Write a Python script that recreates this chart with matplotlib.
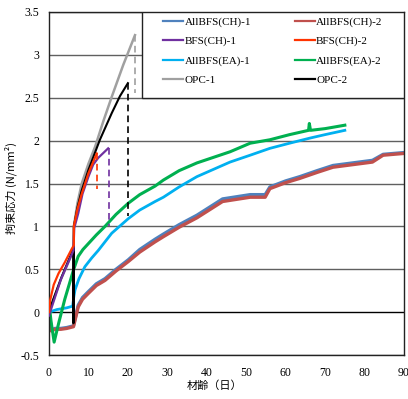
import matplotlib
matplotlib.use("Agg")
import matplotlib.pyplot as plt
from matplotlib.lines import Line2D
from matplotlib.patches import Rectangle

# --- data (age in days, restraint stress in N/mm2) ---
ch1_x = [0, 0.6, 1.5, 3, 4.5, 6.2, 7.4, 8.5, 10, 12, 14.2, 17, 20.1, 23, 26.9, 29, 33, 37.5, 44, 51, 54.8, 56, 60, 63.6, 68, 72, 77, 82, 84.7, 89.8]
ch1_y = [0, -0.21, -0.19, -0.19, -0.18, -0.16, 0.08, 0.17, 0.24, 0.33, 0.39, 0.50, 0.61, 0.73, 0.85, 0.91, 1.02, 1.13, 1.32, 1.37, 1.37, 1.46, 1.53, 1.58, 1.65, 1.71, 1.74, 1.77, 1.84, 1.86]

ch2_x = [0, 0.6, 1.5, 3, 4.5, 6.2, 7.4, 8.5, 10, 12, 14.2, 17, 20.1, 23, 26.9, 29, 33, 37.5, 44, 51, 54.8, 56, 60, 63.6, 68, 72, 77, 82, 84.7, 89.8]
ch2_y = [0, -0.22, -0.2, -0.2, -0.19, -0.17, 0.06, 0.15, 0.22, 0.31, 0.37, 0.48, 0.59, 0.70, 0.82, 0.88, 0.99, 1.10, 1.29, 1.34, 1.34, 1.44, 1.51, 1.56, 1.63, 1.69, 1.72, 1.75, 1.83, 1.85]

bfs1_x = [0, 1, 3, 6.2, 6.4, 7.4, 8.5, 10, 11.2, 12.5, 15]
bfs1_y = [-0.04, 0.1, 0.38, 0.72, 0.98, 1.15, 1.38, 1.58, 1.72, 1.8, 1.91]

bfs2_x = [0, 0.3, 1.2, 2.4, 4, 5.8, 6.3, 6.3, 7.2, 8.3, 10, 12.1]
bfs2_y = [0, 0.14, 0.32, 0.45, 0.58, 0.74, 0.78, 1.0, 1.2, 1.38, 1.62, 1.85]

ea1_x = [0, 2, 4.5, 6.0, 6.3, 6.6, 7.6, 9.1, 10.8, 12.5, 15.9, 20.1, 23, 26.9, 29, 33, 37.5, 45.9, 51, 56, 61, 66.2, 70, 75]
ea1_y = [0, 0.03, 0.05, 0.07, 0.18, 0.26, 0.39, 0.53, 0.63, 0.72, 0.92, 1.09, 1.19, 1.29, 1.34, 1.46, 1.58, 1.75, 1.83, 1.91, 1.97, 2.03, 2.07, 2.12]

ea2_x = [0, 0.5, 1.3, 2.5, 4, 6.2, 7.4, 8.6, 10, 12, 14.2, 17, 20.1, 23, 26.9, 29, 33, 37.5, 45.9, 51, 56, 61, 65.8, 66.0, 66.3, 70, 75]
ea2_y = [0.1, -0.1, -0.35, -0.12, 0.15, 0.49, 0.65, 0.73, 0.8, 0.9, 1.0, 1.14, 1.27, 1.37, 1.47, 1.54, 1.65, 1.74, 1.87, 1.97, 2.01, 2.07, 2.12, 2.2, 2.12, 2.14, 2.18]

opc1_x = [0, 3, 6.2, 6.3, 7.2, 8.3, 10, 11.7, 13.8, 15.9, 18.8, 21.8]
opc1_y = [0, 0.38, 0.72, 1.0, 1.27, 1.5, 1.73, 1.93, 2.23, 2.51, 2.88, 3.23]

opc2_x = [0, 1, 3.2, 6.2, 6.2, 6.3, 7.2, 8.3, 10, 12.9, 15.9, 18, 20]
opc2_y = [0, 0.14, 0.41, 0.74, -0.13, 1.0, 1.22, 1.42, 1.66, 2.01, 2.32, 2.52, 2.67]

# end-of-test drops (dashed verticals): age, top, bottom
drop_bfs1 = [15.1, 1.91, 1.0]
drop_bfs2 = [12.2, 1.85, 1.44]
drop_opc1 = [21.8, 3.23, 2.55]
drop_opc2 = [20.0, 2.67, 1.12]

labels = ['AllBFS(CH)-1', 'AllBFS(CH)-2', 'BFS(CH)-1', 'BFS(CH)-2',
          'AllBFS(EA)-1', 'AllBFS(EA)-2', 'OPC-1', 'OPC-2']
colors = ['#4F81BD', '#C0504D', '#7030A0', '#FF3300',
          '#00B0F0', '#00B050', '#A0A0A0', '#000000']

x_ticks = [0, 10, 20, 30, 40, 50, 60, 70, 80, 90]
y_ticks = [-0.5, 0, 0.5, 1, 1.5, 2, 2.5, 3, 3.5]
y_ticklabels = ['-0.5', '0', '0.5', '1', '1.5', '2', '2.5', '3', '3.5']

W, H = 408, 399
fig = plt.figure(figsize=(W / 100, H / 100), dpi=100)
ax = fig.add_axes([49 / W, 44 / H, 355 / W, 343 / H])

serif = 'Liberation Serif'
cjk = ['Noto Sans CJK JP', 'DejaVu Sans']

# grid lines
for yv in y_ticks:
    c = '#000000' if yv == 0 else '#606060'
    ax.axhline(yv, color=c, lw=1.0, zorder=1)

# measured curves (thick to look like the noisy logger traces)
ax.plot(ch1_x, ch1_y, color=colors[0], lw=2.4, zorder=2)
ax.plot(ch2_x, ch2_y, color=colors[1], lw=2.4, zorder=2.1)
ax.plot(ea1_x, ea1_y, color=colors[4], lw=2.0, zorder=2.2)
ax.plot(ea2_x, ea2_y, color=colors[5], lw=2.2, zorder=2.3)
ax.plot(opc1_x, opc1_y, color=colors[6], lw=1.8, zorder=2.4)
ax.plot(opc2_x, opc2_y, color=colors[7], lw=1.5, zorder=2.5)
ax.plot(bfs1_x, bfs1_y, color=colors[2], lw=1.6, zorder=2.6)
ax.plot(bfs2_x, bfs2_y, color=colors[3], lw=1.6, zorder=2.7)

for d, c in [(drop_bfs1, colors[2]), (drop_bfs2, colors[3]),
             (drop_opc1, colors[6]), (drop_opc2, colors[7])]:
    ax.plot([d[0], d[0]], [d[1], d[2]], color=c, lw=1.2, ls=(0, (4, 2.5)), zorder=2.8)

ax.set_xlim(0, 90)
ax.set_ylim(-0.5, 3.5)
ax.set_xticks(x_ticks)
ax.set_yticks(y_ticks)
ax.set_yticklabels(y_ticklabels)
ax.tick_params(length=0, labelsize=8.5)
ax.tick_params(axis='y', pad=7)
ax.tick_params(axis='x', pad=9)
for lab in ax.get_xticklabels() + ax.get_yticklabels():
    lab.set_family(serif)
for s in ax.spines.values():
    s.set_color('#222222')
    s.set_linewidth(1.0)

# legend box (white, covers the upper grid lines)
ax.add_patch(Rectangle((93 / 355, 257 / 343), 262 / 355, 86 / 343,
                       transform=ax.transAxes, facecolor='white',
                       edgecolor='#222222', lw=1.0, zorder=4))
order = [0, 2, 4, 6, 1, 3, 5, 7]
handles = [Line2D([], [], color=colors[i], lw=1.6) for i in order]
ax.legend(handles, [labels[i] for i in order], ncol=2, frameon=False,
          loc='upper left', bbox_to_anchor=(163 / W, 1 - 17 / H),
          bbox_transform=fig.transFigure, borderpad=0, borderaxespad=0,
          handlelength=1.8, handletextpad=0.15, labelspacing=0.85,
          columnspacing=3.9, prop={'family': serif, 'size': 8})

fig.text(215 / W, 1 - 386 / H, '材齢（日）', family=cjk, fontsize=8,
         ha='center', va='center')
fig.text(11 / W, 1 - 188 / H, '拘束応力 (N/mm²)', family=cjk, fontsize=8,
         rotation=90, ha='center', va='center')

fig.savefig('out.png', dpi=100)
